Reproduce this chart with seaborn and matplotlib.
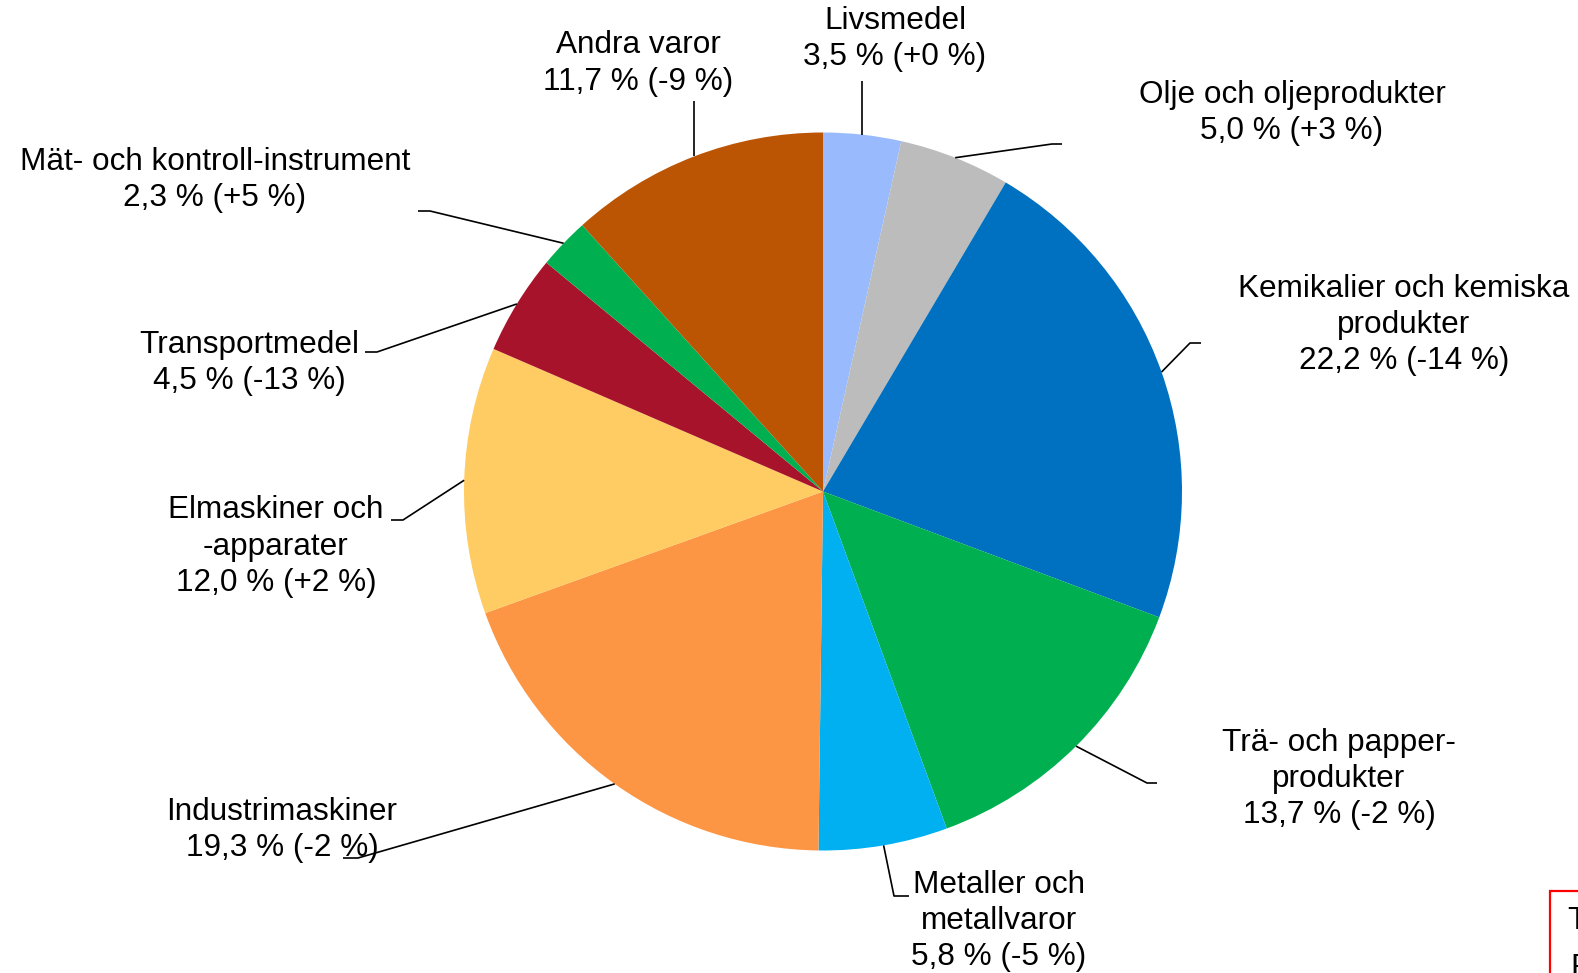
import numpy as np
import matplotlib
matplotlib.use("Agg")
import matplotlib.pyplot as plt
import seaborn as sns

# Export shares by product group (percent) and change from previous year (percent)
categories = [
    "Livsmedel",
    "Olje och oljeprodukter",
    "Kemikalier och kemiska\nprodukter",
    "Trä- och papper-\nprodukter",
    "Metaller och\nmetallvaror",
    "Industrimaskiner",
    "Elmaskiner och\n-apparater",
    "Transportmedel",
    "Mät- och kontroll-instrument",
    "Andra varor",
]
shares = [3.5, 5.0, 22.2, 13.7, 5.8, 19.3, 12.0, 4.5, 2.3, 11.7]
changes = [0, 3, -14, -2, -5, -2, 2, -13, 5, -9]
colors = ["#99BBFD", "#BBBCBB", "#0070C0", "#00B050", "#00B0F0",
          "#FD9644", "#FECC62", "#A8132C", "#00B050", "#BB5503"]

sns.set_theme(style="white")
plt.rcParams["font.family"] = ["Liberation Sans", "DejaVu Sans"]

W, H = 1578, 973
fig = plt.figure(figsize=(W / 100, H / 100), dpi=100)
ax = fig.add_axes([0, 0, 1, 1])

cx, cy, R = 823.0, H - 491.5, 359.0
wedges, _ = ax.pie(shares, colors=colors, startangle=90, counterclock=False,
                   center=(cx, cy), radius=R,
                   wedgeprops=dict(linewidth=0))
ax.set_xlim(0, W)
ax.set_ylim(0, H)
ax.set_aspect("auto")
ax.axis("off")

# Label block centres (pixel coords, y downward) and leader elbow / end points
label_xy = [(895, 38.7), (1292, 112.7), (1404, 325), (1339, 779), (999, 921),
            (282, 830), (276, 546.5), (249, 363), (215, 180), (638, 63.4)]
elbow_xy = [(862, 81), (1052, 144), (1190, 343), (1147, 783), (894, 896),
            (358, 858), (403, 520), (377, 352), (430, 211), (693, 101)]
end_xy = [(862, 81), (1062, 144), (1201, 343), (1157, 783), (909, 896),
          (343, 858), (391, 520), (365, 352), (418, 211), (693, 101)]

cum = np.cumsum([0] + shares[:-1])
for i, (name, s, c) in enumerate(zip(categories, shares, changes)):
    mid = (cum[i] + s / 2) / 100 * 360
    th = np.deg2rad(mid)
    x0 = cx + R * np.sin(th)
    y0 = cy + R * np.cos(th)
    ex, ey = elbow_xy[i]
    fx, fy = end_xy[i]
    if i in (0, 9):
        ax.plot([x0, x0], [y0, H - ey], color="black", lw=1.2,
                solid_capstyle="butt")
    else:
        ax.plot([x0, ex, fx], [y0, H - ey, H - fy], color="black", lw=1.2,
                solid_capstyle="butt")
    txt = f"{name}\n{s:.1f} % ({c:+d} %)".replace(".", ",")
    lx, ly = label_xy[i]
    ax.text(lx, H - ly, txt, ha="center", va="center", multialignment="center",
            fontsize=22.7, color="black", linespacing=1.27)

# Note box in the lower right corner, running off the page edge
ax.add_patch(plt.Rectangle((1550, -20), 80, H - 891 + 20, fill=False,
                           edgecolor="#FF0000", lw=1.6, clip_on=False))
ax.text(1567, H - 906, "T", ha="left", va="top", fontsize=22.7, color="black")
ax.text(1570, H - 953, "P", ha="left", va="top", fontsize=22.7, color="black")

fig.savefig("out.png", dpi=100, facecolor="white")
